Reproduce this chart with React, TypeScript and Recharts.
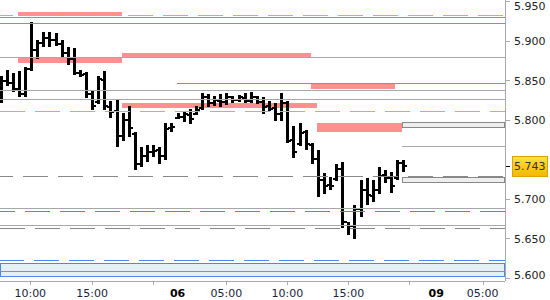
import { ComposedChart, Bar, XAxis, YAxis, ReferenceLine, ReferenceArea } from "recharts"

// 30-minute bars, index = slot on the time axis
const highs = [
  5.856, 5.864, 5.860, 5.863, 5.868, 5.925, 5.902, 5.912, 5.912, 5.911,
  5.902, 5.893, 5.892, 5.864, 5.861, 5.837, 5.856, 5.863, 5.825, 5.826,
  5.809, 5.818, 5.785, 5.766, 5.769, 5.769, 5.766, 5.797, 5.797, 5.809,
  5.811, 5.815, 5.818, 5.835, 5.834, 5.831, 5.834, 5.835, 5.831, 5.832,
  5.835, 5.836, 5.831, 5.830, 5.825, 5.822, 5.835, 5.825, 5.793, 5.797,
  5.788, 5.772, 5.763, 5.734, 5.728, 5.745, 5.747, 5.672, 5.693, 5.725,
  5.727, 5.725, 5.741, 5.737, 5.735, 5.750, 5.750,
]
const lows = [
  5.822, 5.844, 5.836, 5.830, 5.830, 5.863, 5.878, 5.893, 5.893, 5.894,
  5.880, 5.870, 5.858, 5.855, 5.828, 5.813, 5.821, 5.813, 5.804, 5.766,
  5.773, 5.779, 5.737, 5.741, 5.747, 5.754, 5.744, 5.750, 5.785, 5.801,
  5.798, 5.796, 5.806, 5.813, 5.817, 5.818, 5.818, 5.820, 5.822, 5.823,
  5.822, 5.822, 5.821, 5.809, 5.812, 5.799, 5.799, 5.772, 5.753, 5.768,
  5.763, 5.746, 5.704, 5.708, 5.711, 5.723, 5.664, 5.655, 5.650, 5.678,
  5.693, 5.697, 5.707, 5.720, 5.709, 5.725, 5.735,
]
const opens = [
  5.826, 5.850, 5.848, 5.840, 5.834, 5.866, 5.890, 5.898, 5.905, 5.902,
  5.897, 5.885, 5.878, 5.860, 5.858, 5.833, 5.824, 5.852, 5.818, 5.812,
  5.780, 5.800, 5.782, 5.745, 5.755, 5.760, 5.762, 5.755, 5.790, 5.802,
  5.804, 5.808, 5.808, 5.815, 5.830, 5.822, 5.826, 5.824, 5.830, 5.826,
  5.829, 5.825, 5.830, 5.824, 5.818, 5.815, 5.808, 5.822, 5.775, 5.770,
  5.785, 5.770, 5.752, 5.725, 5.718, 5.725, 5.738, 5.672, 5.667, 5.688,
  5.712, 5.705, 5.712, 5.730, 5.727, 5.727, 5.746,
]
const closes = [
  5.850, 5.848, 5.840, 5.834, 5.866, 5.890, 5.898, 5.905, 5.902, 5.897,
  5.885, 5.878, 5.860, 5.858, 5.833, 5.818, 5.852, 5.818, 5.812, 5.780,
  5.800, 5.790, 5.745, 5.755, 5.760, 5.762, 5.755, 5.790, 5.792, 5.804,
  5.808, 5.802, 5.812, 5.830, 5.822, 5.826, 5.824, 5.830, 5.826, 5.829,
  5.825, 5.830, 5.824, 5.818, 5.815, 5.808, 5.822, 5.775, 5.760, 5.785,
  5.770, 5.752, 5.725, 5.718, 5.716, 5.738, 5.672, 5.667, 5.688, 5.712,
  5.705, 5.712, 5.730, 5.727, 5.718, 5.746, 5.743,
]

const xTicks = [4.85, 15, 25, 29, 37, 47, 57, 67, 71.4, 79]
const xLabels = ["10:00", "15:00", "", "06", "05:00", "10:00", "15:00", "", "09", "05:00"]
const dayTicks = [29, 71.4]

const yTicks = [5.6, 5.65, 5.7, 5.8, 5.85, 5.9, 5.95]

const xMin = -0.115
const xMax = 82.67

// levels: [value, from]
const greenLines = [[5.931, null], [5.923, null], [5.8471, 28.9], [5.6091, null]]
const grayLines = [[5.880, null], [5.8386, null], [5.826, null], [5.7677, 65.8], [5.6889, null], [5.6665, null]]
// dashed levels: [value, dash phase]
const orangeDashed = [[5.9323, -2], [5.812, 10]]
const grayDashed = [[5.7297, -2], [5.6635, 10]]
const blueDashed = [[5.6851, 0], [5.6234, 9]]

// zones: [x1, x2, low, high]
const redZones = [
  [2.84, 19.9, 5.9327, 5.9373],
  [2.84, 19.9, 5.8732, 5.88],
  [19.9, 50.9, 5.88, 5.8858],
  [19.9, 51.9, 5.8162, 5.8225],
  [50.9, 64.6, 5.8403, 5.8471],
  [51.9, 65.8, 5.7858, 5.7965],
]
const grayZones = [
  [65.8, 5.7922, 5.7977],
  [65.8, 5.7225, 5.7281],
]
const blueZone = [5.6035, 5.6192]

const lastPrice = closes[closes.length - 1]

const data = highs.map((h, i) => ({
  i,
  high: h,
  low: lows[i],
  open: opens[i],
  close: closes[i],
}))

const font = "DejaVu Sans, Verdana, sans-serif"
const crisp = { shapeRendering: "crispEdges" } as any

// snap to the pixel grid so 1px lines stay sharp
const snap = (v: number) => Math.floor(v) + 0.5

function SnapLine(props: any) {
  const { x1, y1, x2, y2, stroke, strokeDasharray, strokeDashoffset } = props
  if (x1 == null || y1 == null) return null
  return (
    <line
      x1={Math.round(x1)}
      x2={Math.round(x2)}
      y1={snap(y1)}
      y2={snap(y2)}
      stroke={stroke}
      strokeWidth={1}
      strokeDasharray={strokeDasharray}
      strokeDashoffset={strokeDashoffset}
    />
  )
}

function SnapArea(props: any) {
  const { x, y, width, height, fill, stroke } = props
  if (x == null || y == null) return null
  const top = Math.round(Math.min(y, y + height))
  const bottom = Math.round(Math.max(y, y + height))
  const left = Math.round(x)
  const right = Math.round(x + width)
  if (stroke && stroke !== "none") {
    return (
      <rect
        x={left + 0.5}
        y={top + 0.5}
        width={right - left - 1}
        height={bottom - top}
        fill={fill}
        stroke={stroke}
      />
    )
  }
  return <rect x={left} y={top} width={right - left} height={bottom - top} fill={fill} />
}

function OhlcShape(props: any) {
  const { x, y, width, height, payload } = props
  if (x == null || payload == null) return null
  const top = Math.round(height < 0 ? y + height : y)
  const h = Math.round(Math.abs(height))
  const cx = Math.round(x + width / 2)
  const span = payload.high - payload.low || 1
  const toY = (v: number) => top + ((payload.high - v) / span) * h
  const oy = Math.round(toY(payload.open))
  const cy = Math.round(toY(payload.close))
  return (
    <g>
      <rect x={cx - 1} y={top} width={3} height={Math.max(h, 1)} fill="#000" />
      <rect x={cx - 3} y={oy - 1} width={2} height={2} fill="#000" />
      <rect x={cx + 2} y={cy - 1} width={2} height={2} fill="#000" />
    </g>
  )
}

function TimeTick(props: any) {
  const { x, y, payload, index } = props
  const isDay = dayTicks.includes(payload.value)
  const tx = Math.round(x) + 0.5
  return (
    <g>
      {!isDay && <line x1={tx} y1={y} x2={tx} y2={y + 4} stroke="#aaa" />}
      <text
        x={x}
        y={y + 16}
        textAnchor="middle"
        fontSize={11}
        fontFamily={font}
        fontWeight={isDay ? "bold" : "normal"}
        fill={isDay ? "#000" : "#1c2340"}
      >
        {xLabels[index]}
      </text>
    </g>
  )
}

function PriceTick(props: any) {
  const { x, y, payload } = props
  return (
    <text x={x} y={Math.max(6, Math.min(y, 275))} dy="0.36em" fontSize={11} fontFamily={font} fill="#222">
      {payload.value.toFixed(3)}
    </text>
  )
}

function PriceTag(props: any) {
  const { viewBox } = props
  if (!viewBox) return null
  const ax = Math.round(viewBox.x + viewBox.width)
  const y = Math.round(viewBox.y)
  return (
    <g>
      <defs>
        <linearGradient id="tagFill" x1="0" y1="0" x2="0" y2="1">
          <stop offset="0%" stopColor="#ffe040" />
          <stop offset="100%" stopColor="#f2b800" />
        </linearGradient>
      </defs>
      <line x1={ax} y1={y + 0.5} x2={ax + 5} y2={y + 0.5} stroke="#000" />
      <rect x={ax + 7.5} y={y - 9.5} width={35} height={20} fill="url(#tagFill)" stroke="#d9a400" />
      <text x={ax + 9} y={y} dy="0.4em" fontSize={11} fontFamily={font} fill="#333">
        {lastPrice.toFixed(3)}
      </text>
    </g>
  )
}

export default function App() {
  return (
    <div style={{ position: "absolute", left: 0, top: 0, background: "#fff" }}>
      <ComposedChart width={550} height={300} data={data} margin={{ top: 0, right: 0, bottom: 0, left: 0 }}>
        <XAxis
          dataKey="i"
          type="number"
          domain={[xMin, xMax]}
          ticks={xTicks}
          interval={0}
          tickSize={0}
          tickMargin={0}
          tickLine={false}
          axisLine={{ stroke: "#aaa", ...crisp }}
          tick={<TimeTick />}
          height={19}
          allowDataOverflow
        />
        <YAxis
          orientation="right"
          type="number"
          domain={[5.59683, 5.95253]}
          ticks={yTicks}
          interval={0}
          width={45}
          tickSize={5}
          tickMargin={4}
          tickLine={{ stroke: "#aaa", ...crisp }}
          axisLine={{ stroke: "#aaa", ...crisp }}
          tick={<PriceTick />}
          allowDataOverflow
        />

        <ReferenceArea y1={blueZone[0]} y2={blueZone[1]} fill="#e6eefa" stroke="#4f86ec" shape={<SnapArea />} />
        {grayZones.map((z, k) => (
          <ReferenceArea key={"gz" + k} x1={z[0]} x2={xMax} y1={z[1]} y2={z[2]} fill="#eeeeee" stroke="#888" shape={<SnapArea />} />
        ))}
        {redZones.map((z, k) => (
          <ReferenceArea key={"rz" + k} x1={z[0]} x2={z[1]} y1={z[2]} y2={z[3]} fill="#ff9090" stroke="none" shape={<SnapArea />} />
        ))}

        {grayLines.map((l, k) =>
          l[1] == null ? (
            <ReferenceLine key={"gl" + k} y={l[0]} stroke="#a8a8a8" shape={<SnapLine />} />
          ) : (
            <ReferenceLine key={"gl" + k} segment={[{ x: l[1], y: l[0] }, { x: xMax, y: l[0] }]} stroke="#a8a8a8" shape={<SnapLine />} />
          )
        )}
        {greenLines.map((l, k) =>
          l[1] == null ? (
            <ReferenceLine key={"grl" + k} y={l[0]} stroke="#4cc24c" shape={<SnapLine />} />
          ) : (
            <ReferenceLine key={"grl" + k} segment={[{ x: l[1], y: l[0] }, { x: xMax, y: l[0] }]} stroke="#4cc24c" shape={<SnapLine />} />
          )
        )}
        {orangeDashed.map((d, k) => (
          <ReferenceLine key={"od" + k} y={d[0]} stroke="#f5a820" strokeDasharray="25 10" strokeDashoffset={d[1]} shape={<SnapLine />} />
        ))}
        {grayDashed.map((d, k) => (
          <ReferenceLine key={"gd" + k} y={d[0]} stroke="#888" strokeDasharray="25 10" strokeDashoffset={d[1]} shape={<SnapLine />} />
        ))}
        {blueDashed.map((d, k) => (
          <ReferenceLine key={"bd" + k} y={d[0]} stroke="#4f86ec" strokeDasharray="25 10" strokeDashoffset={d[1]} shape={<SnapLine />} />
        ))}

        <Bar
          dataKey={(d: any) => [d.low, d.high]}
          barSize={4}
          shape={<OhlcShape />}
          isAnimationActive={false}
        />

        <ReferenceLine y={lastPrice} stroke="none" label={<PriceTag />} />
      </ComposedChart>
    </div>
  )
}
